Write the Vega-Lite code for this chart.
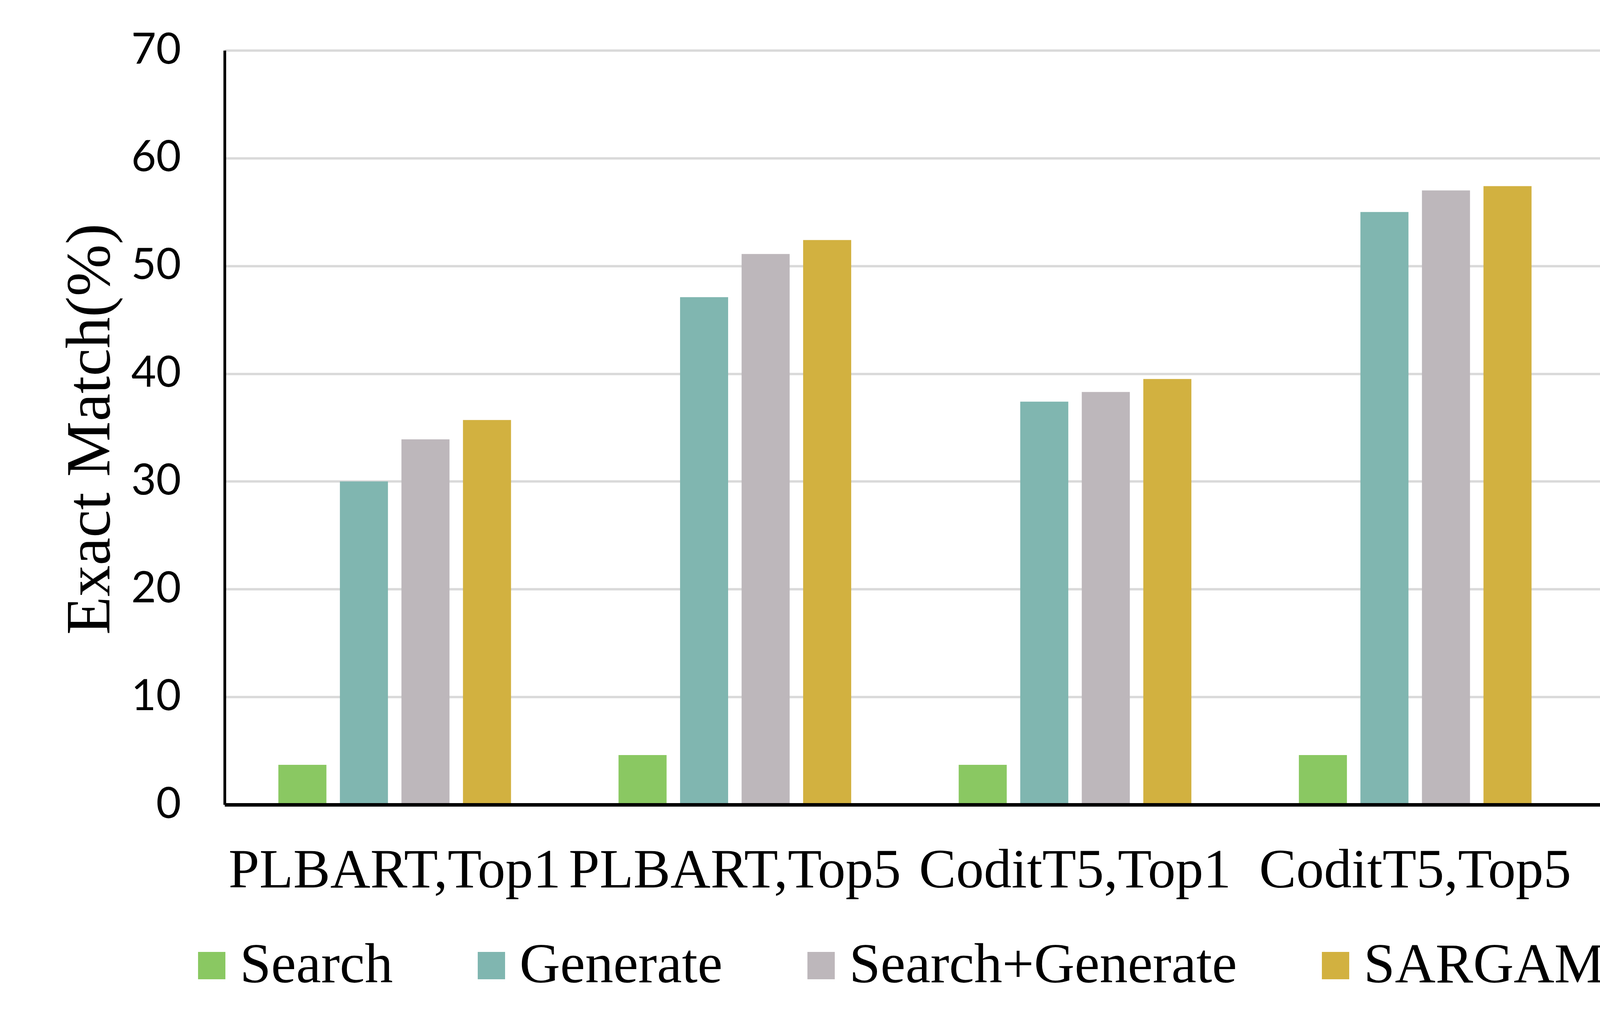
{
  "$schema": "https://vega.github.io/schema/vega-lite/v6.json",
  "width": 5225,
  "height": 1931,
  "autosize": "none",
  "padding": {"left": 575, "top": 129, "right": 115, "bottom": 582},
  "background": "white",
  "data": {
    "values": [
      {"model": "PLBART,Top1", "method": "Search", "value": 3.7},
      {"model": "PLBART,Top1", "method": "Generate", "value": 30.0},
      {"model": "PLBART,Top1", "method": "Search+Generate", "value": 33.9},
      {"model": "PLBART,Top1", "method": "SARGAM:Search+Generate+Edit", "value": 35.7},
      {"model": "PLBART,Top5", "method": "Search", "value": 4.6},
      {"model": "PLBART,Top5", "method": "Generate", "value": 47.1},
      {"model": "PLBART,Top5", "method": "Search+Generate", "value": 51.1},
      {"model": "PLBART,Top5", "method": "SARGAM:Search+Generate+Edit", "value": 52.4},
      {"model": "CoditT5,Top1", "method": "Search", "value": 3.7},
      {"model": "CoditT5,Top1", "method": "Generate", "value": 37.4},
      {"model": "CoditT5,Top1", "method": "Search+Generate", "value": 38.3},
      {"model": "CoditT5,Top1", "method": "SARGAM:Search+Generate+Edit", "value": 39.5},
      {"model": "CoditT5,Top5", "method": "Search", "value": 4.6},
      {"model": "CoditT5,Top5", "method": "Generate", "value": 55.0},
      {"model": "CoditT5,Top5", "method": "Search+Generate", "value": 57.0},
      {"model": "CoditT5,Top5", "method": "SARGAM:Search+Generate+Edit", "value": 57.4},
      {"model": "NatGen,Top1", "method": "Search", "value": 3.7},
      {"model": "NatGen,Top1", "method": "Generate", "value": 36.5},
      {"model": "NatGen,Top1", "method": "Search+Generate", "value": 38.3},
      {"model": "NatGen,Top1", "method": "SARGAM:Search+Generate+Edit", "value": 39.4},
      {"model": "NatGen,Top5", "method": "Search", "value": 4.6},
      {"model": "NatGen,Top5", "method": "Generate", "value": 52.4},
      {"model": "NatGen,Top5", "method": "Search+Generate", "value": 55.4},
      {"model": "NatGen,Top5", "method": "SARGAM:Search+Generate+Edit", "value": 56.2}
    ]
  },
  "mark": {"type": "bar"},
  "encoding": {
    "x": {
      "field": "model",
      "type": "nominal",
      "sort": ["PLBART,Top1", "PLBART,Top5", "CoditT5,Top1", "CoditT5,Top5", "NatGen,Top1", "NatGen,Top5"],
      "scale": {"paddingInner": 0.316, "paddingOuter": 0.158},
      "axis": {
        "title": null,
        "labelFont": "Liberation Serif",
        "labelFontSize": 142,
        "labelColor": "black",
        "labelPadding": 211,
        "labelBaseline": "alphabetic",
        "labelAngle": 0,
        "labelLimit": 0,
        "labelOverlap": false,
        "ticks": false,
        "grid": false,
        "domainColor": "black",
        "domainWidth": 9,
        "zindex": 1
      }
    },
    "xOffset": {
      "field": "method",
      "type": "nominal",
      "sort": ["Search", "Generate", "Search+Generate", "SARGAM:Search+Generate+Edit"],
      "scale": {"paddingInner": 0.219, "paddingOuter": 0}
    },
    "y": {
      "field": "value",
      "type": "quantitative",
      "scale": {"domain": [0, 70], "nice": false},
      "axis": {
        "title": "Exact Match(%)",
        "values": [0, 10, 20, 30, 40, 50, 60, 70],
        "titleFont": "Liberation Serif",
        "titleFontSize": 160,
        "titleFontWeight": "normal",
        "titleColor": "black",
        "titleX": -296,
        "titleY": 969,
        "titleAngle": 270,
        "titleBaseline": "alphabetic",
        "titleAlign": "center",
        "labelFont": "Lato",
        "labelFontSize": 110,
        "labelColor": "black",
        "labelPadding": 112,
        "ticks": false,
        "domainColor": "black",
        "domainWidth": 7,
        "gridColor": "#D9D9D9",
        "gridWidth": 6
      }
    },
    "color": {
      "field": "method",
      "type": "nominal",
      "sort": ["Search", "Generate", "Search+Generate", "SARGAM:Search+Generate+Edit"],
      "scale": {
        "domain": ["Search", "Generate", "Search+Generate", "SARGAM:Search+Generate+Edit"],
        "range": ["#8AC862", "#80B6B0", "#BDB7BB", "#D2B140"]
      },
      "legend": {
        "title": null,
        "orient": "none",
        "legendX": -105,
        "legendY": 2271,
        "direction": "horizontal",
        "symbolType": "square",
        "symbolSize": 4900,
        "symbolStrokeWidth": 0,
        "symbolOpacity": 1,
        "labelFont": "Liberation Serif",
        "labelFontSize": 144,
        "labelColor": "black",
        "labelOffset": 0,
        "labelLimit": 0,
        "columnPadding": 180
      }
    }
  },
  "config": {
    "view": {"stroke": null}
  }
}
